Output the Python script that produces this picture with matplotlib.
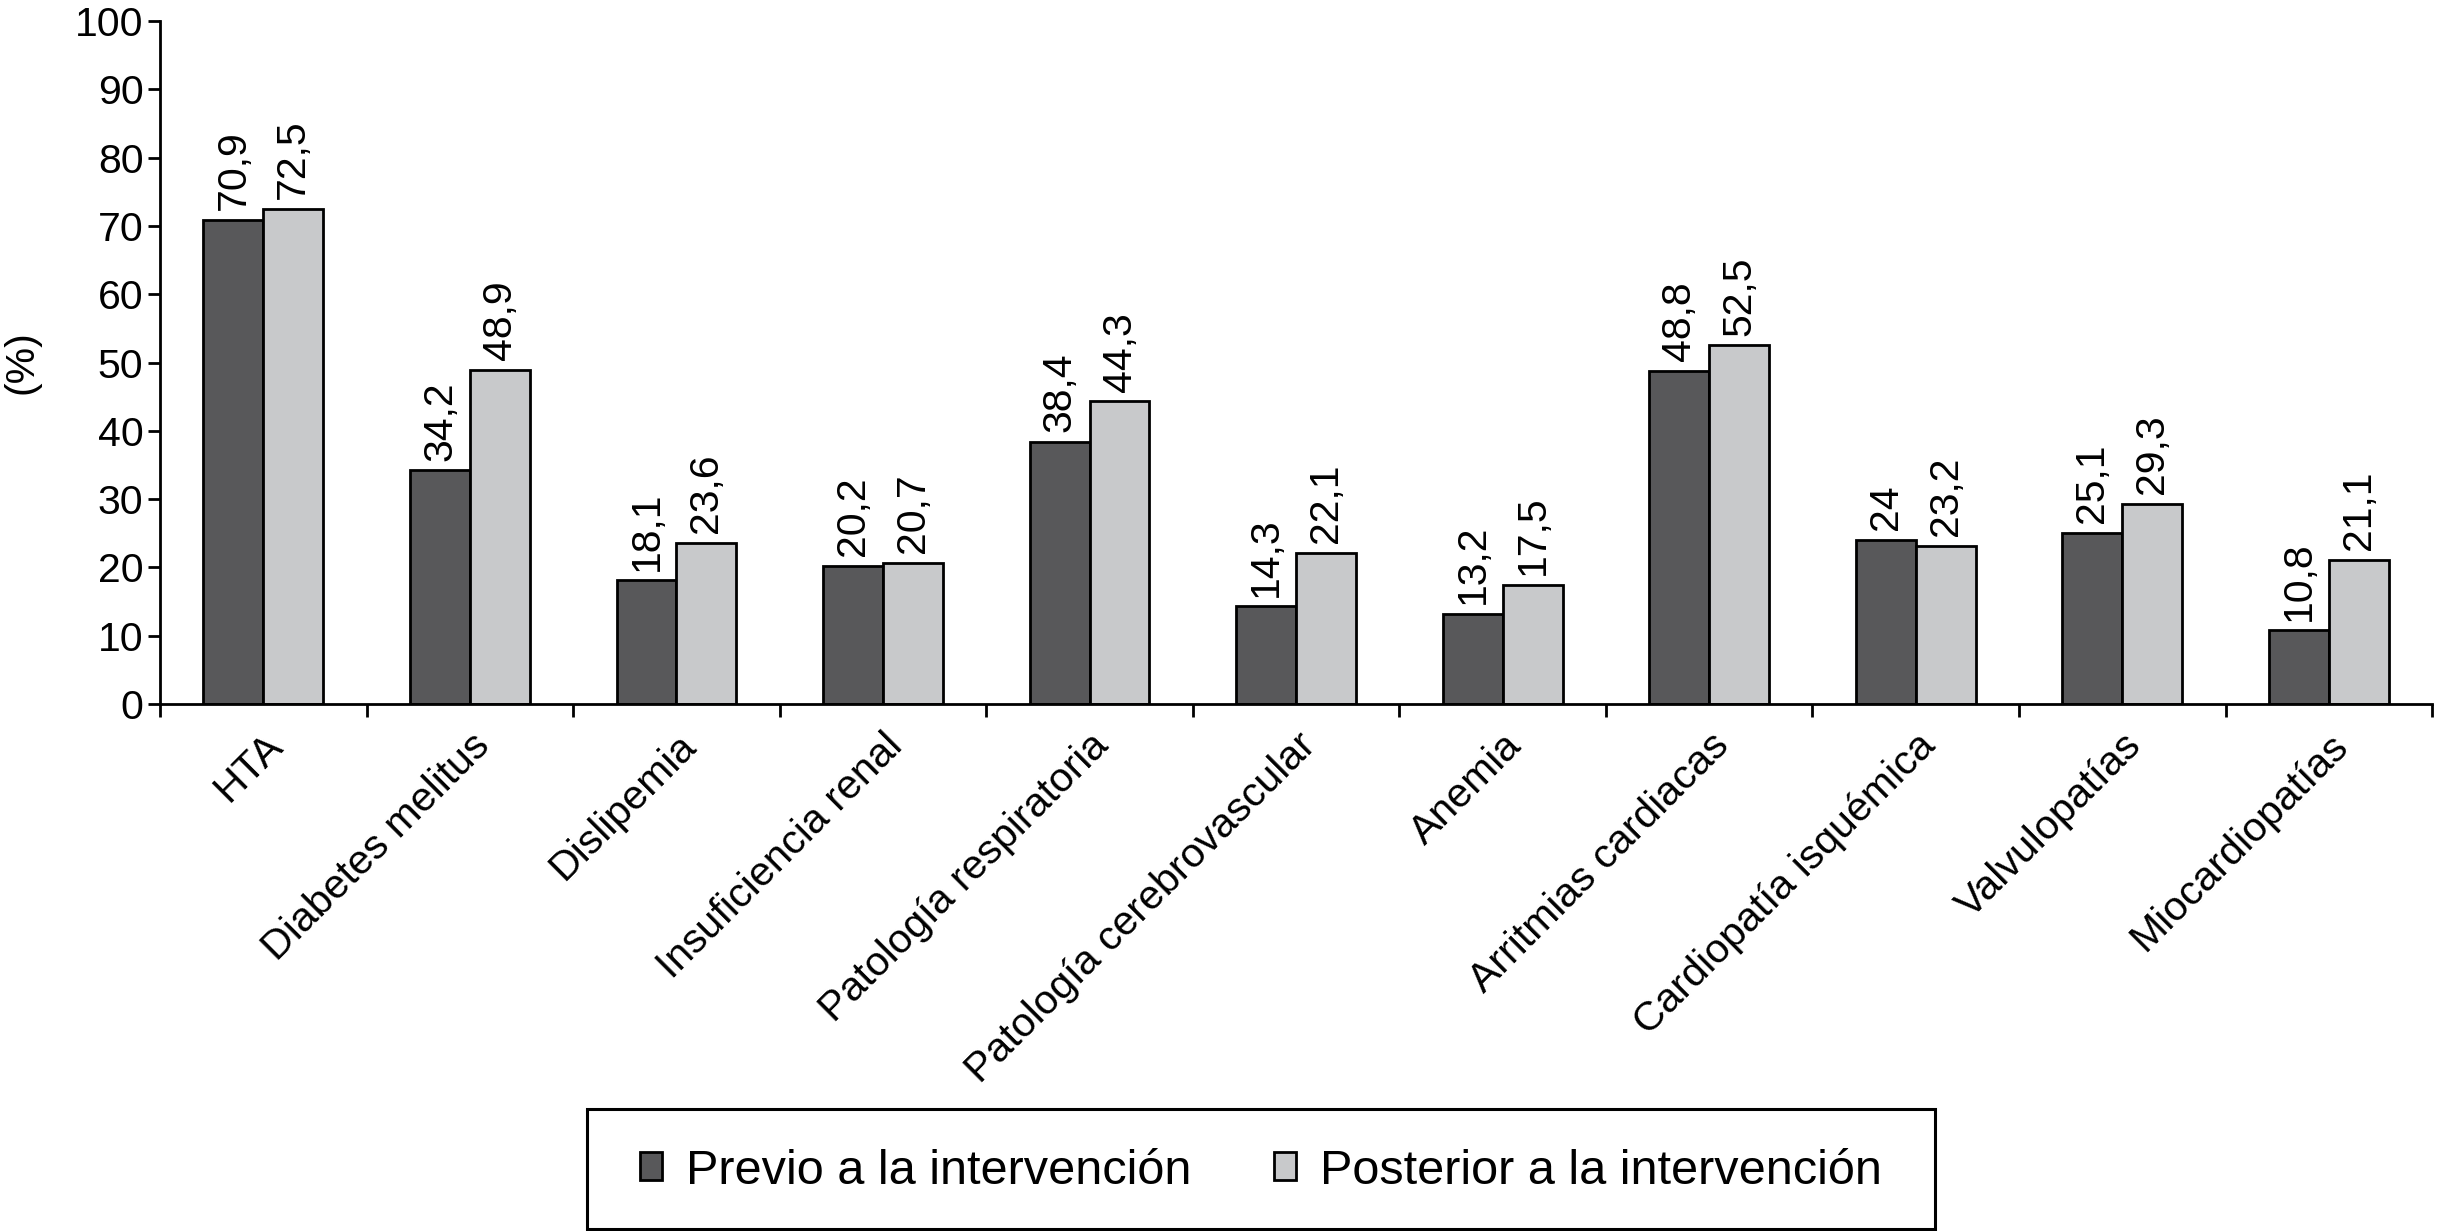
import numpy as np
import matplotlib
matplotlib.use('Agg')
import matplotlib.pyplot as plt
from matplotlib.patches import Rectangle

plt.rcParams['font.family'] = ['Liberation Sans', 'DejaVu Sans']

#datos
categorias = ['HTA', 'Diabetes melitus', 'Dislipemia', 'Insuficiencia renal',
              'Patología respiratoria', 'Patología cerebrovascular', 'Anemia',
              'Arritmias cardiacas', 'Cardiopatía isquémica', 'Valvulopatías',
              'Miocardiopatías']
previo = [70.9, 34.2, 18.1, 20.2, 38.4, 14.3, 13.2, 48.8, 24, 25.1, 10.8]
posterior = [72.5, 48.9, 23.6, 20.7, 44.3, 22.1, 17.5, 52.5, 23.2, 29.3, 21.1]
series_names = ['Previo a la intervención', 'Posterior a la intervención']
yticks = list(range(0, 101, 10))

c_dark = '#58585a'
c_light = '#c8c9cb'
fs = 29.5

def fmt(v):
   #coma decimal, enteros sin decimales
   if float(v).is_integer():
      return str(int(v))
   return ('%.1f' % v).replace('.', ',')

fig = plt.figure(figsize=(24.37, 12.31), dpi=100)
ax = fig.add_axes([0.0657, 0.428, 0.9323, 0.555])

x = np.arange(len(categorias))
w = 0.29
b1 = ax.bar(x - w/2, previo, w, color=c_dark, edgecolor='black', linewidth=2, label=series_names[0])
b2 = ax.bar(x + w/2, posterior, w, color=c_light, edgecolor='black', linewidth=2, label=series_names[1])

for bars, vals in ((b1, previo), (b2, posterior)):
   for r, v in zip(bars, vals):
      ax.annotate(fmt(v), (r.get_x() + r.get_width()/2, r.get_height()),
                  xytext=(0, 7), textcoords='offset points',
                  ha='center', va='bottom', rotation=90, fontsize=fs)

ax.set_xlim(-0.5, len(categorias) - 0.5)
ax.set_ylim(0, 100)
ax.set_yticks(yticks)
ax.tick_params(axis='y', labelsize=fs, length=9, width=2, pad=3)

#ticks en los limites de grupo, etiquetas en el centro
ax.set_xticks(np.arange(len(categorias) + 1) - 0.5)
ax.set_xticklabels([])
ax.tick_params(axis='x', which='major', length=9, width=2)
ax.set_xticks(x, minor=True)
ax.set_xticklabels(categorias, minor=True, rotation=45, ha='right', va='top',
                   rotation_mode='anchor', fontsize=fs)
ax.tick_params(axis='x', which='minor', length=0, pad=16)

for s in ('top', 'right'):
   ax.spines[s].set_visible(False)
for s in ('left', 'bottom'):
   ax.spines[s].set_linewidth(2)

ax.set_ylabel('(%)', fontsize=fs, labelpad=25)

#caja de la leyenda dibujada aparte
fig.patches.append(Rectangle((587/2437, 2/1231), 1348/2437, 120/1231,
                             transform=fig.transFigure, fill=False,
                             edgecolor='black', linewidth=2.2))
leg = fig.legend(handles=[b1, b2], loc='center',
                 bbox_to_anchor=(1261/2437, 60/1231),
                 ncol=2, fontsize=35, frameon=False,
                 handlelength=0.45, handleheight=0.52, handletextpad=0.5,
                 columnspacing=1.7, borderaxespad=0)

fig.savefig('out.png', dpi=100)
